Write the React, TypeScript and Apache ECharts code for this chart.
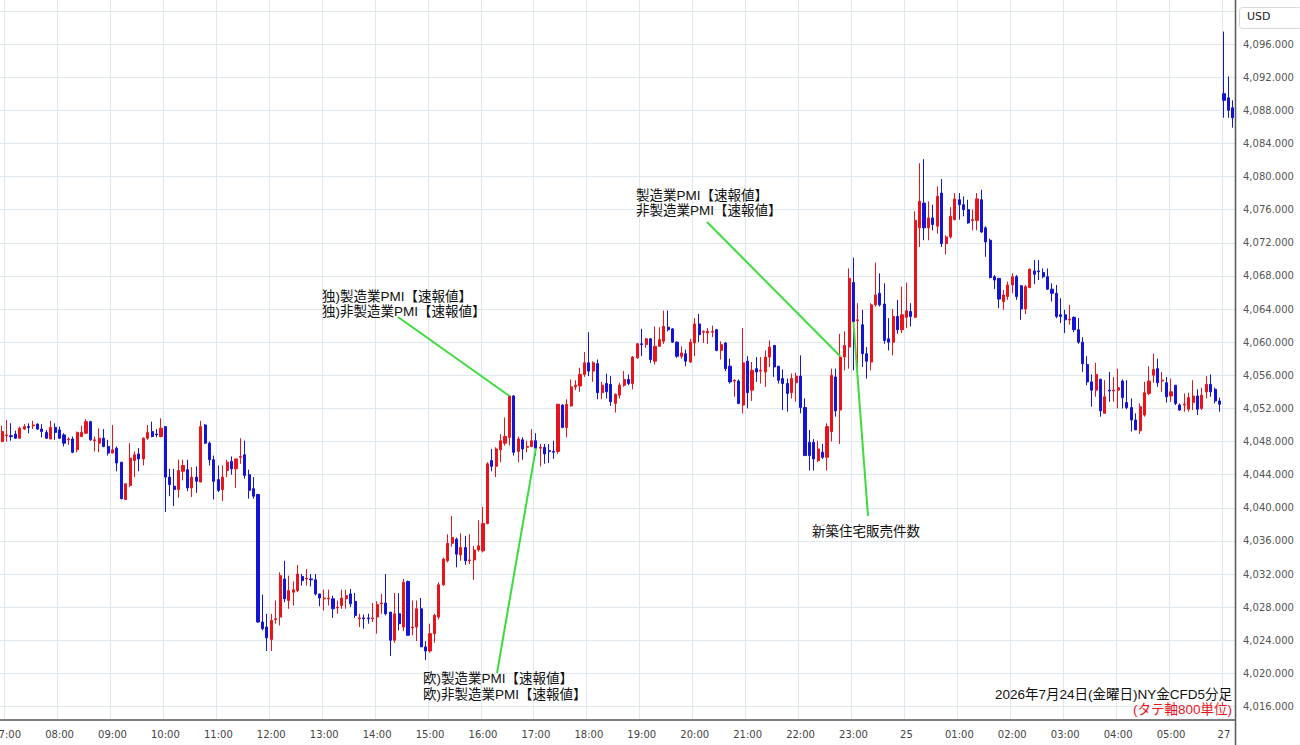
import React, { useEffect, useRef } from "react";
import * as echarts from "echarts";

// Session: Fri 24 06:55 .. Sat 25 05:55 (5-min bars), then Mon 27 opening bars
const mondayTimes = ["07:00", "07:05", "07:10"];

// [open, high, low, close]
const bars: number[][] = [
  [4048.0, 4049.9, 4047.9, 4049.2], [4048.7, 4050.6, 4048.0, 4048.8], [4048.7, 4050.2, 4048.1, 4048.6], [4048.9, 4049.3, 4048.3, 4048.4],
  [4048.4, 4049.8, 4048.3, 4049.6], [4049.5, 4050.1, 4049.4, 4049.8], [4049.8, 4050.2, 4049.0, 4049.7], [4049.9, 4050.5, 4049.5, 4050.0],
  [4050.1, 4050.2, 4049.4, 4049.5], [4049.5, 4050.1, 4048.5, 4049.2], [4049.1, 4049.4, 4048.3, 4048.4], [4048.3, 4050.5, 4048.3, 4049.7],
  [4049.7, 4050.2, 4048.2, 4049.1], [4049.4, 4049.8, 4048.3, 4048.4], [4048.8, 4049.0, 4047.4, 4047.8], [4048.2, 4048.5, 4047.6, 4048.3],
  [4048.3, 4048.6, 4046.6, 4046.7], [4047.0, 4049.2, 4046.7, 4049.1], [4048.6, 4049.9, 4048.6, 4049.1], [4049.0, 4050.7, 4048.9, 4050.4],
  [4050.4, 4050.5, 4048.1, 4048.2], [4048.1, 4048.6, 4046.8, 4048.2], [4047.8, 4049.6, 4046.7, 4048.4], [4048.4, 4049.5, 4047.3, 4047.4],
  [4047.4, 4048.2, 4046.3, 4046.6], [4046.6, 4050.0, 4046.6, 4047.0], [4047.2, 4047.4, 4044.4, 4045.4], [4045.5, 4045.5, 4041.0, 4041.1],
  [4041.0, 4042.9, 4041.0, 4042.9], [4042.7, 4047.8, 4042.5, 4046.0], [4045.7, 4046.8, 4043.7, 4046.4], [4046.5, 4047.2, 4044.4, 4045.9],
  [4045.9, 4048.5, 4045.1, 4048.4], [4048.4, 4050.0, 4048.2, 4049.1], [4049.2, 4050.4, 4048.5, 4048.6], [4048.9, 4049.5, 4048.5, 4048.8],
  [4048.6, 4050.8, 4048.5, 4049.6], [4049.8, 4049.8, 4039.5, 4043.7], [4043.7, 4044.7, 4041.4, 4042.8], [4042.6, 4044.7, 4040.2, 4042.2],
  [4042.2, 4045.8, 4041.2, 4044.5], [4044.4, 4045.8, 4043.3, 4045.1], [4044.6, 4045.8, 4042.0, 4042.4], [4042.4, 4044.9, 4041.3, 4043.7],
  [4043.7, 4045.0, 4041.8, 4043.2], [4043.1, 4050.5, 4043.1, 4049.8], [4050.0, 4050.1, 4047.7, 4047.8], [4047.8, 4048.0, 4045.1, 4045.8],
  [4045.8, 4046.3, 4041.0, 4043.2], [4043.4, 4045.1, 4041.9, 4042.1], [4042.2, 4045.1, 4040.8, 4043.7], [4044.5, 4045.8, 4043.7, 4045.5],
  [4045.6, 4046.2, 4044.0, 4044.7], [4044.7, 4045.9, 4042.4, 4045.9], [4046.1, 4048.4, 4045.3, 4046.2], [4046.4, 4048.1, 4043.5, 4043.9],
  [4044.0, 4044.6, 4041.1, 4042.1], [4042.3, 4043.7, 4041.1, 4041.4], [4041.6, 4041.7, 4026.1, 4026.2], [4026.2, 4029.5, 4025.2, 4025.4],
  [4025.6, 4027.2, 4022.7, 4024.3], [4024.1, 4027.2, 4022.7, 4026.4], [4026.5, 4028.8, 4026.0, 4026.6], [4026.8, 4032.2, 4025.8, 4031.8],
  [4031.4, 4033.6, 4028.6, 4029.0], [4028.8, 4031.8, 4027.8, 4030.0], [4029.8, 4031.1, 4028.2, 4030.1], [4030.0, 4033.1, 4029.8, 4032.0],
  [4031.7, 4032.0, 4030.6, 4031.2], [4031.4, 4032.6, 4030.6, 4031.5], [4031.4, 4032.0, 4030.5, 4031.3], [4031.3, 4032.0, 4029.4, 4029.6],
  [4029.6, 4029.6, 4028.1, 4029.1], [4029.0, 4030.1, 4027.6, 4029.1], [4029.0, 4030.1, 4028.2, 4029.1], [4029.0, 4029.4, 4026.7, 4027.8],
  [4027.9, 4028.8, 4027.2, 4028.0], [4028.2, 4030.1, 4027.8, 4029.1], [4029.0, 4030.1, 4027.8, 4029.4], [4029.6, 4030.2, 4028.0, 4028.4],
  [4028.7, 4029.7, 4026.7, 4027.0], [4026.6, 4027.2, 4025.6, 4026.7], [4026.7, 4027.1, 4025.4, 4026.6], [4026.7, 4027.2, 4026.0, 4026.6],
  [4026.6, 4028.5, 4026.2, 4026.7], [4026.8, 4028.7, 4024.8, 4028.3], [4028.4, 4029.6, 4027.2, 4028.5], [4028.5, 4032.0, 4027.0, 4027.2],
  [4027.4, 4027.4, 4022.1, 4024.0], [4024.0, 4029.7, 4023.7, 4027.2], [4027.2, 4029.7, 4025.2, 4026.0], [4025.6, 4031.4, 4025.1, 4031.0],
  [4031.1, 4031.2, 4024.6, 4024.6], [4025.5, 4028.8, 4024.6, 4025.6], [4025.6, 4028.8, 4023.9, 4027.8], [4027.8, 4029.1, 4023.2, 4023.2],
  [4023.2, 4023.9, 4021.6, 4022.7], [4022.7, 4026.0, 4022.5, 4024.8], [4024.8, 4027.2, 4023.7, 4027.0], [4026.8, 4031.0, 4026.5, 4030.7],
  [4030.7, 4034.0, 4030.6, 4033.8], [4033.6, 4036.8, 4033.4, 4035.7], [4035.7, 4039.0, 4035.3, 4036.4], [4036.2, 4036.4, 4032.8, 4034.4],
  [4034.3, 4036.9, 4033.6, 4035.2], [4035.2, 4036.6, 4033.1, 4033.6], [4033.6, 4036.8, 4033.2, 4033.7], [4033.7, 4035.4, 4031.3, 4034.9],
  [4034.9, 4038.5, 4034.7, 4035.4], [4034.8, 4040.1, 4034.6, 4038.1], [4038.1, 4045.5, 4038.0, 4045.3], [4045.7, 4047.1, 4044.4, 4045.0],
  [4045.0, 4047.3, 4043.7, 4047.1], [4047.0, 4048.9, 4045.5, 4048.1], [4047.8, 4050.9, 4047.5, 4048.6], [4048.5, 4053.6, 4047.5, 4053.5],
  [4053.5, 4053.6, 4046.3, 4046.7], [4046.8, 4048.6, 4045.5, 4048.3], [4048.2, 4048.5, 4045.8, 4047.1], [4047.3, 4048.1, 4046.7, 4047.4],
  [4047.4, 4049.5, 4047.3, 4048.1], [4048.1, 4049.0, 4046.3, 4047.2], [4047.2, 4047.7, 4045.0, 4047.3], [4047.3, 4047.7, 4045.3, 4046.5],
  [4046.9, 4047.7, 4045.4, 4046.8], [4046.8, 4048.1, 4045.9, 4046.7], [4046.8, 4052.5, 4046.5, 4052.5], [4052.4, 4052.5, 4049.6, 4049.7],
  [4049.7, 4053.1, 4048.5, 4052.5], [4052.3, 4055.5, 4052.2, 4054.6], [4054.6, 4055.4, 4054.2, 4054.8], [4054.7, 4056.9, 4054.0, 4056.1],
  [4056.1, 4058.8, 4055.8, 4057.5], [4057.5, 4061.2, 4055.9, 4056.5], [4056.5, 4057.7, 4055.2, 4057.5], [4057.4, 4057.9, 4053.1, 4053.9],
  [4053.9, 4055.2, 4053.1, 4054.8], [4055.0, 4056.2, 4053.2, 4054.0], [4054.9, 4055.9, 4052.3, 4052.8], [4052.6, 4053.8, 4051.5, 4053.7],
  [4053.6, 4055.1, 4053.2, 4054.8], [4054.8, 4056.5, 4054.6, 4055.5], [4055.5, 4056.1, 4054.8, 4055.0], [4055.0, 4058.3, 4054.3, 4058.2],
  [4058.1, 4059.9, 4058.0, 4059.8], [4059.8, 4061.6, 4058.3, 4059.7], [4059.7, 4060.5, 4059.3, 4060.4], [4060.4, 4060.5, 4057.5, 4057.9],
  [4057.7, 4061.9, 4057.3, 4059.5], [4059.5, 4061.8, 4059.4, 4060.3], [4060.1, 4063.8, 4059.8, 4061.9], [4061.8, 4063.8, 4061.3, 4061.5],
  [4061.6, 4061.7, 4059.9, 4060.0], [4060.0, 4060.1, 4058.1, 4058.3], [4058.3, 4059.5, 4058.0, 4058.7], [4058.6, 4059.1, 4057.1, 4057.7],
  [4057.6, 4060.4, 4057.5, 4060.0], [4059.9, 4062.9, 4058.3, 4062.2], [4062.2, 4063.4, 4060.0, 4060.9], [4061.2, 4061.4, 4059.9, 4061.3],
  [4061.1, 4061.7, 4059.8, 4061.3], [4061.2, 4062.0, 4060.6, 4061.3], [4061.5, 4061.6, 4058.9, 4059.0], [4059.0, 4060.1, 4057.9, 4059.7],
  [4059.9, 4060.0, 4056.5, 4056.8], [4057.1, 4058.0, 4055.0, 4055.2], [4055.3, 4055.5, 4053.4, 4055.4], [4055.3, 4055.5, 4052.5, 4052.6],
  [4052.4, 4061.7, 4051.4, 4057.5], [4057.7, 4058.3, 4052.0, 4053.9], [4054.2, 4057.6, 4052.9, 4056.6], [4056.8, 4058.2, 4055.2, 4056.4],
  [4056.5, 4058.2, 4055.0, 4056.6], [4056.4, 4059.0, 4054.6, 4058.2], [4058.2, 4060.2, 4057.0, 4059.4], [4059.6, 4059.6, 4055.8, 4057.0],
  [4057.1, 4057.1, 4055.0, 4055.4], [4055.6, 4056.7, 4051.8, 4055.0], [4055.0, 4055.6, 4051.6, 4053.8], [4053.9, 4056.2, 4053.2, 4055.6],
  [4055.1, 4056.3, 4052.8, 4055.9], [4055.9, 4058.4, 4051.4, 4052.1], [4052.1, 4053.2, 4046.3, 4046.3], [4047.9, 4049.4, 4044.5, 4046.3],
  [4047.9, 4048.3, 4044.5, 4045.9], [4045.7, 4048.1, 4045.5, 4047.1], [4046.7, 4047.7, 4045.9, 4046.1], [4046.1, 4050.2, 4044.5, 4049.8],
  [4049.2, 4056.8, 4048.0, 4056.0], [4055.8, 4056.8, 4051.0, 4051.7], [4051.8, 4061.0, 4047.7, 4058.2], [4058.2, 4061.3, 4056.6, 4059.6],
  [4059.4, 4068.9, 4056.8, 4067.7], [4067.2, 4070.2, 4056.6, 4062.5], [4062.6, 4064.7, 4056.8, 4062.7], [4062.1, 4063.9, 4057.0, 4058.6],
  [4058.6, 4059.4, 4055.6, 4057.7], [4057.6, 4064.7, 4056.6, 4064.5], [4064.5, 4069.6, 4064.3, 4065.7], [4065.9, 4068.3, 4064.3, 4064.5],
  [4064.6, 4067.1, 4059.8, 4060.2], [4060.4, 4062.9, 4059.0, 4060.0], [4060.0, 4064.0, 4058.4, 4063.1], [4063.1, 4065.1, 4061.0, 4061.5],
  [4061.5, 4066.7, 4061.1, 4063.3], [4063.0, 4067.2, 4061.7, 4063.8], [4063.7, 4064.7, 4061.9, 4063.1], [4063.0, 4075.8, 4062.9, 4074.7],
  [4073.8, 4081.6, 4071.5, 4077.0], [4076.8, 4082.1, 4072.3, 4073.8], [4073.8, 4077.0, 4072.3, 4075.0], [4075.0, 4076.6, 4073.5, 4074.2],
  [4074.0, 4078.8, 4073.1, 4077.6], [4078.0, 4079.7, 4071.5, 4071.9], [4071.9, 4072.9, 4070.6, 4072.7], [4072.7, 4076.3, 4072.5, 4075.2],
  [4074.8, 4078.0, 4074.7, 4077.3], [4077.2, 4078.0, 4074.8, 4076.6], [4076.6, 4077.6, 4075.2, 4076.0], [4076.0, 4077.2, 4074.3, 4074.4],
  [4074.7, 4076.0, 4073.5, 4074.8], [4074.7, 4078.0, 4073.5, 4077.3], [4077.2, 4078.4, 4073.2, 4073.3], [4073.8, 4074.0, 4070.3, 4072.1],
  [4072.3, 4072.5, 4067.7, 4067.8], [4067.9, 4068.1, 4066.4, 4067.5], [4067.7, 4067.7, 4064.1, 4065.2], [4064.9, 4066.3, 4063.9, 4065.7],
  [4065.5, 4067.3, 4065.1, 4066.9], [4066.9, 4068.3, 4065.9, 4067.9], [4067.9, 4068.1, 4065.1, 4065.5], [4066.8, 4066.9, 4062.7, 4064.0],
  [4064.0, 4066.9, 4063.4, 4066.7], [4066.6, 4068.9, 4066.5, 4068.8], [4068.6, 4069.9, 4067.0, 4068.2], [4068.6, 4069.9, 4067.5, 4068.5],
  [4068.4, 4068.9, 4067.7, 4067.9], [4067.9, 4068.9, 4066.3, 4066.4], [4066.4, 4067.1, 4064.9, 4065.9], [4065.9, 4066.9, 4062.9, 4063.1],
  [4063.3, 4065.3, 4062.3, 4063.1], [4063.3, 4063.9, 4061.1, 4062.7], [4062.7, 4064.5, 4062.1, 4062.8], [4063.0, 4063.1, 4061.2, 4061.5],
  [4061.5, 4062.9, 4059.8, 4060.0], [4060.0, 4060.6, 4056.4, 4057.4], [4057.3, 4058.3, 4054.8, 4055.2], [4055.2, 4056.1, 4052.2, 4054.2],
  [4054.2, 4057.5, 4053.4, 4056.1], [4055.5, 4055.6, 4051.0, 4051.7], [4051.4, 4055.4, 4051.4, 4053.4], [4054.2, 4056.4, 4052.8, 4054.1],
  [4054.1, 4055.8, 4052.8, 4054.2], [4054.2, 4056.8, 4052.0, 4054.5], [4055.3, 4055.5, 4052.0, 4053.3], [4052.7, 4055.4, 4051.9, 4052.1],
  [4052.1, 4053.2, 4049.2, 4050.6], [4050.6, 4051.4, 4049.4, 4049.4], [4049.3, 4052.6, 4048.9, 4052.2], [4051.2, 4055.2, 4051.0, 4053.9],
  [4053.8, 4057.1, 4053.6, 4055.3], [4056.0, 4058.6, 4055.1, 4056.7], [4056.8, 4058.0, 4054.6, 4055.1], [4055.3, 4056.4, 4054.0, 4055.4],
  [4055.1, 4055.8, 4052.7, 4053.4], [4053.5, 4055.6, 4052.8, 4054.0], [4054.8, 4054.8, 4052.4, 4052.6], [4052.4, 4052.6, 4051.7, 4051.8],
  [4052.4, 4053.8, 4051.6, 4052.5], [4051.9, 4053.9, 4051.6, 4053.3], [4052.7, 4055.4, 4051.8, 4053.5], [4053.5, 4054.3, 4051.2, 4051.9],
  [4052.0, 4054.5, 4051.8, 4053.6], [4054.0, 4055.9, 4053.2, 4054.9], [4054.9, 4056.1, 4053.4, 4054.0], [4054.3, 4054.5, 4052.6, 4052.9],
  [4052.9, 4053.3, 4051.6, 4052.5],
  // Monday 27 opening
  [4090.0, 4097.5, 4087.1, 4089.2], [4089.5, 4092.1, 4087.1, 4088.0], [4088.3, 4089.2, 4085.9, 4087.1],
];

const yMin = 4016;
const yMax = 4100;
const yStep = 4;

// event annotations
const eventTexts = {
  ger: ["独)製造業PMI【速報値】", "独)非製造業PMI【速報値】"],
  eu: ["欧)製造業PMI【速報値】", "欧)非製造業PMI【速報値】"],
  us: ["製造業PMI【速報値】", "非製造業PMI【速報値】"],
  home: ["新築住宅販売件数"],
};
// candle index and price where each pointer line touches the chart
const eventAnchors: { idx: number; price: number }[] = [
  { idx: 115, price: 4053.5 },
  { idx: 121, price: 4047.2 },
  { idx: 190, price: 4058.3 },
  { idx: 193, price: 4062.4 },
];

const titleText = "2026年7月24日(金曜日)NY金CFD5分足";
const unitText = "(タテ軸800単位)";

const pad = (n: number) => (n < 10 ? "0" + n : "" + n);

function buildCategories(): string[] {
  const out: string[] = [];
  let mins = 6 * 60 + 55;
  const fridayCount = bars.length - mondayTimes.length;
  for (let k = 0; k < fridayCount; k++) {
    const d = mins >= 1440 ? 25 : 24;
    const mm = mins % 1440;
    out.push(`${d} ${pad(Math.floor(mm / 60))}:${pad(mm % 60)}`);
    mins += 5;
  }
  for (const t of mondayTimes) out.push(`27 ${t}`);
  return out;
}

const categories = buildCategories();

const isHour = (v: string) => v.endsWith(":00");
const fmtLabel = (v: string) => {
  const [d, t] = v.split(" ");
  if (d === "27") return "27";
  if (t === "00:00") return d;
  return t;
};
const fmtPrice = (v: number) => {
  if (v >= yMax) return "";
  const th = Math.floor(v / 1000);
  const rest = Math.round(v - th * 1000);
  return `${th},${String(rest).padStart(3, "0")}.000`;
};

const RED = "#e8141c";
const BLUE = "#1414d4";
const GREEN = "#3ddc3d";
const JP = '"Liberation Sans", "Noto Sans CJK JP", sans-serif';

export default function App() {
  const ref = useRef<HTMLDivElement>(null);

  useEffect(() => {
    if (!ref.current) return;
    const chart = echarts.init(ref.current, undefined, { renderer: "svg" });

    const data = bars.map(([o, h, l, c]) => [o, c, l, h]);

    const textEl = (lines: string[], x: number, y: number) => ({
      type: "text",
      x,
      y,
      z: 10,
      style: {
        text: lines.join("\n"),
        font: `13.5px ${JP}`,
        lineHeight: 15.2,
        fill: "#111",
        verticalAlign: "middle",
        align: "left",
      },
    });

    const pix = [
      { x: 398, y: 317 },
      { x: 497, y: 673 },
      { x: 707, y: 222 },
      { x: 868, y: 516 },
    ];

    const option: any = {
      animation: false,
      backgroundColor: "#ffffff",
      grid: [
        { left: 0, right: 65, top: 10.9, height: 695.6, containLabel: false, outerBoundsMode: "none" },
        { left: 0, right: 65, top: 0, bottom: 25, containLabel: false, outerBoundsMode: "none" },
      ],
      xAxis: [
        {
          type: "category",
          gridIndex: 0,
          data: categories,
          show: false,
          boundaryGap: true,
        },
        {
          type: "category",
          gridIndex: 1,
          data: categories,
          boundaryGap: true,
          axisLine: { show: true, lineStyle: { color: "#7f7f7f", width: 2 } },
          axisTick: { show: false },
          axisLabel: {
            interval: (_i: number, v: string) => isHour(v),
            formatter: (v: string) => fmtLabel(v),
            color: "#444",
            fontSize: 10,
            fontFamily: "DejaVu Sans",
            margin: 9,
            hideOverlap: false,
          },
          splitLine: {
            show: true,
            interval: (_i: number, v: string) => isHour(v),
            lineStyle: { color: "#dfe7ef", width: 1 },
          },
        },
      ],
      yAxis: [
        {
          type: "value",
          gridIndex: 0,
          position: "right",
          min: yMin,
          max: yMax,
          interval: yStep,
          axisLine: { show: false },
          axisTick: { show: false },
          axisLabel: {
            formatter: (v: number) => fmtPrice(v),
            color: "#555",
            fontSize: 10,
            fontFamily: "DejaVu Sans",
            margin: 8,
          },
          splitLine: { show: true, lineStyle: { color: "#dfe7ef", width: 1 } },
        },
        { type: "value", gridIndex: 1, show: false },
      ],
      series: [
        {
          type: "candlestick",
          xAxisIndex: 0,
          yAxisIndex: 0,
          data,
          barWidth: 2.6,
          itemStyle: {
            color: RED,
            color0: BLUE,
            borderColor: RED,
            borderColor0: BLUE,
            borderWidth: 1,
          },
          markLine: {
            silent: true,
            symbol: ["none", "none"],
            label: { show: false },
            lineStyle: { color: GREEN, width: 2, type: "solid" },
            emphasis: { disabled: true },
            data: eventAnchors.map((a, k) => [
              { coord: [a.idx, a.price] },
              { x: pix[k].x, y: pix[k].y },
            ]),
          },
        },
      ],
      graphic: [
        {
          type: "line",
          z: 5,
          shape: { x1: 1235.5, y1: 0, x2: 1235.5, y2: 745 },
          style: { stroke: "#555", lineWidth: 1.5 },
        },
        {
          type: "rect",
          z: 5,
          shape: { x: 1239.5, y: 7.5, width: 62, height: 21, r: 3 },
          style: { fill: "#fff", stroke: "#d8d8d8", lineWidth: 1 },
        },
        {
          type: "text",
          z: 6,
          x: 1247,
          y: 16,
          style: {
            text: "USD",
            font: "11px DejaVu Sans",
            fill: "#222",
            verticalAlign: "middle",
          },
        },
        textEl(eventTexts.ger, 322, 304),
        textEl(eventTexts.us, 636, 203),
        textEl(eventTexts.eu, 423, 686.5),
        textEl(eventTexts.home, 812, 531),
        {
          type: "text",
          z: 10,
          x: 1232,
          y: 702,
          style: {
            text: `{t|${titleText}}\n{u|${unitText}}`,
            align: "right",
            verticalAlign: "middle",
            rich: {
              t: { font: `13.5px ${JP}`, fill: "#111", lineHeight: 15.5, align: "right" },
              u: { font: `13.5px ${JP}`, fill: "#e8141c", lineHeight: 15.5, align: "right" },
            },
          },
        },
      ],
    };

    chart.setOption(option);
    return () => chart.dispose();
  }, []);

  return (
    <div
      ref={ref}
      style={{ position: "fixed", left: 0, top: 0, width: 1300, height: 745, background: "#fff" }}
    />
  );
}
